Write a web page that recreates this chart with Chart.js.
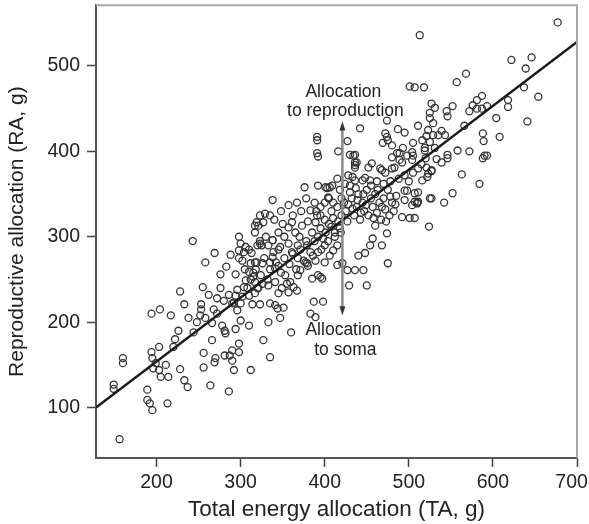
<!DOCTYPE html>
<html>
<head>
<meta charset="utf-8">
<script src="https://cdn.jsdelivr.net/npm/chart.js@4.4.1/dist/chart.umd.min.js"></script>
<style>
  html, body { margin: 0; padding: 0; background: #fff; }
  #wrap { width: 589px; height: 524px; }
</style>
</head>
<body>
<div id="wrap"><canvas id="allocChart"></canvas></div>
<script>
const xTicks = [200, 300, 400, 500, 600, 700];
const yTicks = [100, 200, 300, 400, 500];
const xRange = [128, 700];
const yRange = [41, 571];

// fitted line end points (TA, RA)
const fitTA = [128, 700];
const fitRA = [100, 528];

// the double arrow and its two notes
const arrowTA = 421;
const arrowRA = [208, 435];
const upperNote = ["Allocation", "to reproduction"];
const lowerNote = ["Allocation", "to soma"];

// [TA, RA] per individual
const plants = [
  [156,63],[149,127],[149,122],[160,158],[160,152],[189,121],[189,109],[192,105],[195,97],[213,105],
  [194,165],[195,158],[203,171],[199,152],[196,146],[211,150],[203,144],[205,136],[214,136],[220,171],
  [228,145],[233,132],[237,124],[204,215],[194,210],[217,208],[233,221],[253,221],[253,215],[252,208],
  [272,210],[266,199],[290,222],[300,222],[314,221],[323,221],[296,214],[300,202],[310,196],[278,196],
  [281,190],[282,187],[294,192],[266,179],[256,164],[256,147],[264,126],[269,153],[270,158],[281,161],
  [287,161],[290,167],[298,175],[298,165],[290,155],[292,144],[312,144],[286,119],
  [335,222],[344,216],[351,217],[347,205],[333,200],[327,179],[335,159],[360,188],[383,210],[389,206],
  [387,224],[398,224],[341,220],
  [243,295],[269,281],[258,270],[283,265],[276,256],[294,256],[228,236],[255,241],
  [288,279],[298,300],[300,292],[298,284],[304,282],[298,275],
  [313,281],[312,269],[319,270],[310,259],[315,253],[306,249],[317,247],
  [317,313],[319,317],[323,325],[323,295],[320,290],
  [304,241],[294,231],[292,223],[310,231],[320,240],
  [392,394],[436,387],[436,384],[338,343],[376,358],[378,345],[357,337],[367,340],
  [329,327],[335,325],[327,317],[415,368],[401,358],[409,360],[404,346],
  [391,325],[383,331],[389,317],[361,317],[357,311],[365,305],[373,313],
  [321,313],[317,305],[338,296],[333,290],[339,282],[357,292],[361,282],[368,290],
  [317,270],[326,269],[335,270],[341,263],[345,266],
  [368,275],[377,270],[380,266],[386,278],[392,282],[400,290],[398,298],
  [385,251],[392,255],[397,251],[400,270],[406,278],[410,284],[415,290],
  [355,245],[363,241],[367,237],[368,255],[353,255],
  [333,243],[341,247],[349,240],[345,234],[357,235],
  [326,245],[321,240],[317,234],
  [429,243],[450,243],[475,269],
  [415,267],[421,269],[427,261],[436,261],[446,261],
  [440,278],[448,281],[454,290],[468,290],[457,298],[474,304],[460,313],
  [492,323],[501,322],[504,337],[507,341],[511,341],[495,354],
  [468,378],[480,380],[492,387],[504,390],[452,381],[454,366],[433,370],[445,366],
  [425,330],[428,338],[432,345],[435,325],[438,335],[440,350],[442,320],[445,340],[447,330],[450,355],
  [452,325],[455,345],[457,335],[460,350],[462,328],[465,340],[467,320],[470,345],[472,332],[475,355],
  [477,325],[480,340],[482,330],[485,348],[430,352],[437,357],[443,328],[449,337],[458,322],[463,355],
  [468,335],[473,318],[478,347],[484,338],[420,325],[423,340],[427,318],[433,333],[439,343],[446,350],
  [405,315],[410,322],[412,305],[418,310],[408,330],[415,335],[400,320],[395,310],
  [330,300],[345,305],[350,315],[340,320],[325,290],[310,285],[305,262],[345,285],[352,300],[370,300],
  [378,295],[385,305],[362,325],[348,330],[380,318],[388,340],[372,330],[395,335],
  [306,288],[302,272],[315,258],[338,276],[347,288],[338,296],[323,292],
  [359,247],[371,261],[379,269],[389,272],[395,253],
  [335,262],[342,270],[348,258],[352,275],[358,268],[362,280],[366,262],[371,285],[375,272],[379,290],
  [383,282],[388,295],[392,300],[396,285],[401,305],[404,295],[408,312],[412,300],[416,318],[419,305],
  [324,255],[328,275],[332,250],[318,262],[312,250],[308,240],[302,230],[296,238],[286,232],[280,225],
  [276,240],[272,228],[268,215],[262,232],[258,205],[248,200],[244,188],[238,205],[226,190],[222,180],
  [400,340],[405,345],[395,325],[390,330],[410,340],[420,345],[418,355],[424,362],[430,360],[455,360],
  [462,365],[470,362],[478,365],[488,368],[495,372],[500,365],[505,375],[515,385],[520,392],
  [677,551],[513,536],[622,507],[646,510],[639,497],[568,491],[557,481],[518,475],[507,475],[501,476],
  [637,475],[654,464],[618,460],[618,452],[641,435],[604,439],[608,417],
  [587,465],[581,460],[576,454],[572,447],[593,453],[587,450],[581,450],
  [588,421],[589,412],[593,395],[566,430],[552,453],[545,447],[546,441],
  [527,456],[531,451],[525,445],[525,439],[529,433],[523,425],[529,419],[535,419],[539,424],[543,419],[521,418],
  [511,430],[519,404],[531,404],[546,396],[558,401],[572,400],[590,395],
  [511,380],[523,374],[527,377],[533,391],[539,387],[546,392],[563,373],[584,362],[588,392],
  [511,352],[510,340],[525,345],[542,340],[552,351],[507,322],[524,312],
  [442,427],[474,436],[487,426],[495,422],[472,421],[474,417],[475,413],[480,407],
  [391,417],[391,413],[391,398],[416,400],[430,396],[436,396],[489,398],[505,395],[427,412],
  [434,395],[438,387],[436,381],[392,360],[403,357],[406,358],
  [428,372],[436,366],[448,369],[456,386],[466,380],
  [472,375],[483,381],[489,390],[480,393],[486,398],[498,395],[504,399],[493,404],[505,410],[516,413],[519,401],[525,411],
  [469,410],[521,381],[527,378],[522,370],[516,366],
  [498,354],[507,351],[495,343],[510,339],[527,345]
];

const fontFamily = "'Liberation Sans', Arial, sans-serif";
const ink = "#222";

// frame top/right, plus the double arrow with its notes
const extras = {
  id: "extras",
  afterDatasetsDraw(chart) {
    const { ctx, chartArea: a, scales } = chart;
    const x = scales.x, y = scales.y;
    ctx.save();
    ctx.strokeStyle = "#a8a8a8";
    ctx.lineWidth = 2;
    ctx.beginPath();
    ctx.moveTo(a.left, a.top);
    ctx.lineTo(a.right, a.top);
    ctx.lineTo(a.right, a.bottom);
    ctx.stroke();

    const ax = x.getPixelForValue(arrowTA);
    const yTop = y.getPixelForValue(arrowRA[1]);
    const yBot = y.getPixelForValue(arrowRA[0]);
    ctx.strokeStyle = "#8a8a8a";
    ctx.lineWidth = 2.5;
    ctx.beginPath();
    ctx.moveTo(ax, yTop + 6);
    ctx.lineTo(ax, yBot - 6);
    ctx.stroke();
    ctx.fillStyle = "#333";
    ctx.beginPath();
    ctx.moveTo(ax, yTop);
    ctx.lineTo(ax - 3, yTop + 9);
    ctx.lineTo(ax + 3, yTop + 9);
    ctx.closePath();
    ctx.fill();
    ctx.beginPath();
    ctx.moveTo(ax, yBot);
    ctx.lineTo(ax - 3, yBot - 9);
    ctx.lineTo(ax + 3, yBot - 9);
    ctx.closePath();
    ctx.fill();

    ctx.font = "17.5px " + fontFamily;
    ctx.fillStyle = ink;
    ctx.textAlign = "center";
    ctx.textBaseline = "middle";
    ctx.fillText(upperNote[0], ax + 1, yTop - 29);
    ctx.fillText(upperNote[1], ax + 3, yTop - 10);
    ctx.fillText(lowerNote[0], ax + 1, yBot + 15);
    ctx.fillText(lowerNote[1], ax + 3, yBot + 35);
    ctx.restore();
  }
};

const ctx = document.getElementById("allocChart").getContext("2d");
const chart = new Chart(ctx, {
  type: "scatter",
  data: {
    datasets: [
      {
        label: "Fit",
        data: fitTA.map((v, i) => ({ x: v, y: fitRA[i] })),
        showLine: true,
        borderColor: "#1a1a1a",
        borderWidth: 2.5,
        pointRadius: 0,
        fill: false,
      },
      {
        label: "Plants",
        data: plants.map(p => ({ x: p[0], y: p[1] })),
        pointStyle: "circle",
        pointRadius: 3.5,
        pointBorderWidth: 1.3,
        pointBorderColor: "#333",
        pointBackgroundColor: "rgba(0,0,0,0)",
        showLine: false,
      },
    ],
  },
  options: {
    responsive: true,
    maintainAspectRatio: false,
    animation: false,
    layout: { padding: { left: 0, right: 12, top: 5, bottom: 0 } },
    plugins: {
      legend: { display: false },
      tooltip: { enabled: false },
    },
    scales: {
      x: {
        type: "linear",
        min: xRange[0],
        max: xRange[1],
        afterBuildTicks: s => { s.ticks = xTicks.map(v => ({ value: v })); },
        afterFit: s => { s.height = 66; s.paddingLeft = 0; s.paddingRight = 0; },
        ticks: {
          color: ink,
          font: { family: fontFamily, size: 19.5 },
          padding: 4,
          maxRotation: 0,
          // last label sits at the page edge, nudge it left
          callback: v => v === xTicks[xTicks.length - 1] ? v + "  " : String(v),
        },
        grid: { drawOnChartArea: false, tickLength: 9, tickColor: "#444", tickWidth: 1.5 },
        border: { color: "#555", width: 2 },
        title: {
          display: true,
          text: "Total energy allocation (TA, g)",
          color: ink,
          font: { family: fontFamily, size: 22.5 },
          padding: { top: 0, bottom: 1 },
        },
      },
      y: {
        type: "linear",
        min: yRange[0],
        max: yRange[1],
        afterBuildTicks: s => { s.ticks = yTicks.map(v => ({ value: v })); },
        afterFit: s => { s.width = 96; s.paddingTop = 0; s.paddingBottom = 0; },
        ticks: { color: ink, font: { family: fontFamily, size: 19.5 }, padding: 7 },
        grid: { drawOnChartArea: false, tickLength: 9, tickColor: "#444", tickWidth: 1.5 },
        border: { color: "#555", width: 2 },
        title: {
          display: true,
          text: "Reproductive allocation (RA, g)",
          color: ink,
          font: { family: fontFamily, size: 21 },
          padding: { top: 5, bottom: 0 },
        },
      },
    },
  },
  plugins: [extras],
});
</script>
</body>
</html>
